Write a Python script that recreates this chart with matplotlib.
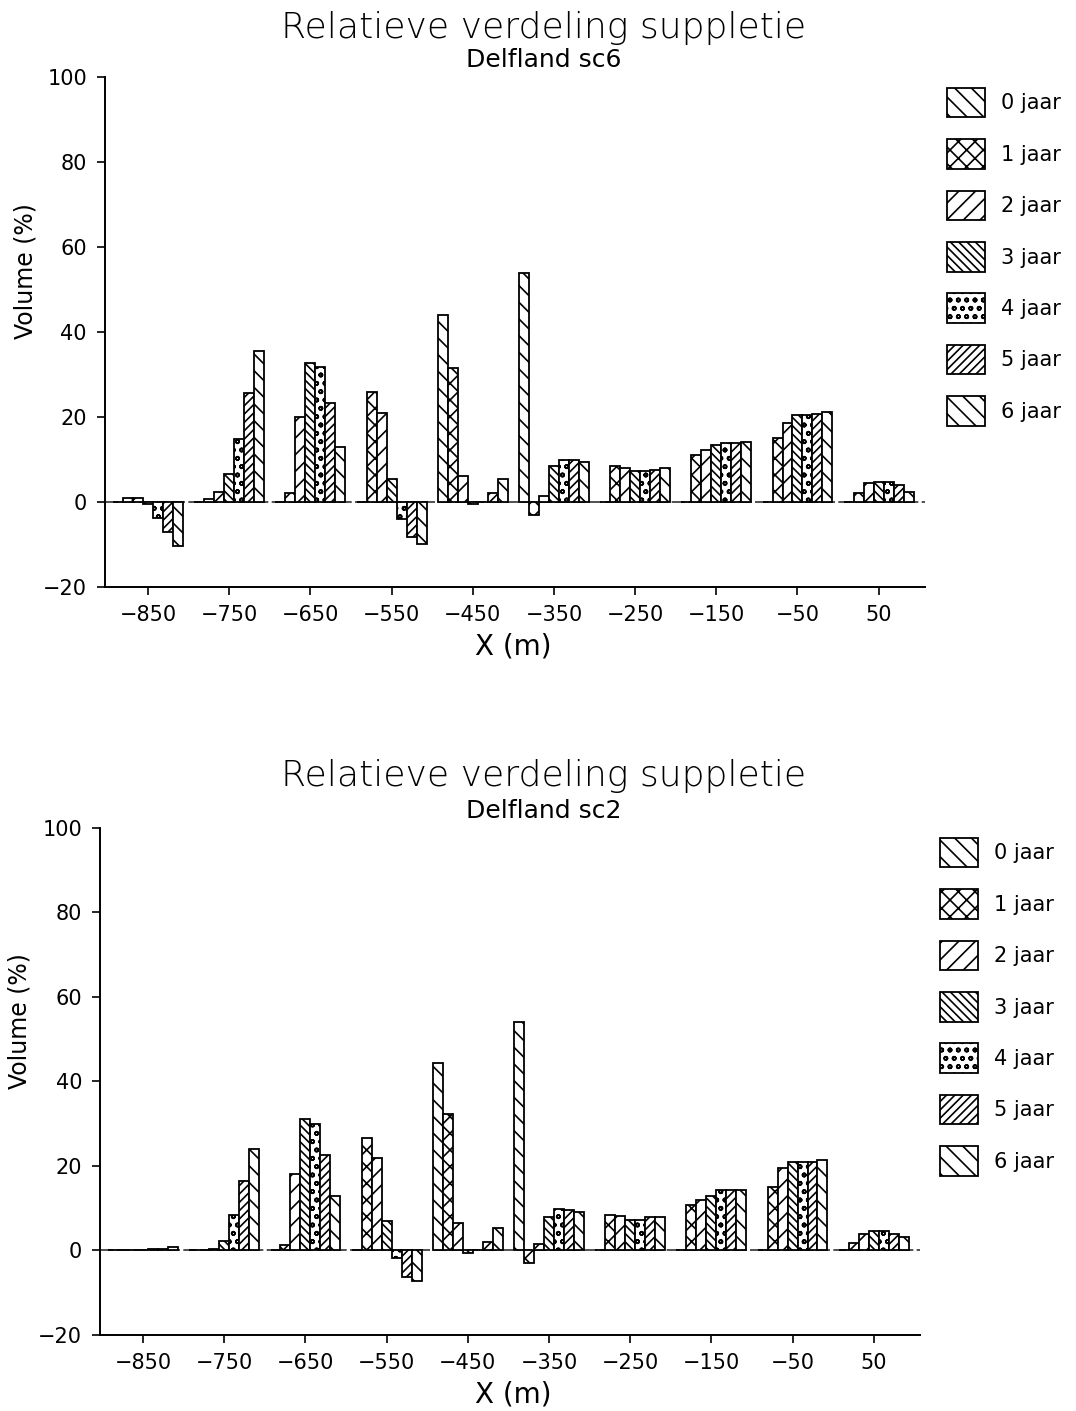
import numpy as np
import matplotlib
matplotlib.use("Agg")
import matplotlib.pyplot as plt

# posities van de raaien (m) en jaren na suppletie
x_pos = [-850, -750, -650, -550, -450, -350, -250, -150, -50, 50]
jaren = ["0 jaar", "1 jaar", "2 jaar", "3 jaar", "4 jaar", "5 jaar", "6 jaar"]

# Delfland sc6, volume (%) per jaar (rij) per raai (kolom)
sc6_vol = [
    [0, 0, 0, 0, 44, 54, 0, 0, 0, 0],
    [1, 0.7, 2, 26, 31.6, -3, 8.5, 11, 15, 2],
    [1, 2.3, 20, 20.9, 6.1, 1.5, 8, 12.2, 18.5, 4.5],
    [-0.5, 6.5, 32.8, 5.4, -0.5, 8.5, 7.2, 13.3, 20.5, 4.6],
    [-3.8, 14.8, 31.8, -4, 0, 9.8, 7.3, 13.8, 20.5, 4.8],
    [-7, 25.6, 23.3, -8.3, 2, 9.8, 7.6, 13.8, 20.7, 4],
    [-10.4, 35.5, 13, -9.9, 5.4, 9.3, 8, 14.2, 21.2, 2.3],
]

# Delfland sc2
sc2_vol = [
    [0, 0, 0, 0, 44.3, 54, 0, 0, 0, 0],
    [0, 0, 1.3, 26.5, 32.3, -3, 8.5, 10.8, 15, 1.8],
    [0.2, 0.3, 18.2, 21.8, 6.6, 1.5, 8.2, 12, 19.5, 3.8],
    [0.2, 2.2, 31, 7, -0.5, 8, 7.3, 13, 21, 4.6],
    [0.3, 8.3, 30, -1.8, 0, 9.8, 7.3, 14.3, 21, 4.6],
    [0.3, 16.4, 22.5, -6.3, 2, 9.5, 7.8, 14.2, 21, 4],
    [0.8, 24, 13, -7.3, 5.2, 9, 8, 14.2, 21.3, 3.2],
]

hatches = ["\\\\", "xx", "//", "\\\\\\\\", "oo", "////", "\\\\"]

plt.rcParams["font.family"] = "DejaVu Sans"
plt.rcParams["hatch.linewidth"] = 1.2
plt.rcParams["hatch.color"] = "black"

fig = plt.figure(figsize=(10.76, 14.11), dpi=100)


def teken(rect, data, titel, sub, ttl_y, sub_y, leg_xy, xlab_y, ylab_x):
    ax = fig.add_axes(rect)
    bw = 12.3
    x = np.array(x_pos, dtype=float)
    handles = []
    for i, vals in enumerate(data):
        b = ax.bar(x + (i - 3) * bw, vals, width=bw, color="white",
                   edgecolor="black", linewidth=1.3, hatch=hatches[i],
                   label=jaren[i], zorder=3)
        handles.append(b)
    ax.axhline(0, color="#333333", lw=1.2, ls=(0, (8, 2)), zorder=2)
    ax.set_xlim(-903, 107)
    ax.set_ylim(-20, 100)
    ax.set_xticks(x_pos)
    ax.set_xticklabels([str(v).replace("-", "\u2212") for v in x_pos])
    ax.set_yticks([-20, 0, 20, 40, 60, 80, 100])
    ax.set_yticklabels(["\u221220", "0", "20", "40", "60", "80", "100"])
    ax.tick_params(direction="out", length=6, width=1.2, labelsize=15, pad=7)
    for s in ["top", "right"]:
        ax.spines[s].set_visible(False)
    for s in ["left", "bottom"]:
        ax.spines[s].set_linewidth(1.4)
    fig.text(0.505, ttl_y, titel, ha="center", va="center", fontsize=26,
             fontweight="light")
    fig.text(0.505, sub_y, sub, ha="center", va="center", fontsize=18)
    fig.text(0.477, xlab_y, "X (m)", ha="center", va="center", fontsize=20)
    fig.text(ylab_x, rect[1] + rect[3] * 0.62, "Volume (%)", ha="center",
             va="center", rotation=90, fontsize=17)
    fig.legend(handles=handles, loc="upper left", bbox_to_anchor=leg_xy,
               frameon=False, fontsize=15, handlelength=1.8, handleheight=1.8,
               labelspacing=1.05, handletextpad=0.8, borderpad=0,
               borderaxespad=0)
    return ax


teken([0.0976, 0.584, 0.762, 0.3614], sc6_vol,
      "Relatieve verdeling suppletie", "Delfland sc6",
      1 - 28 / 1411, 1 - 60 / 1411, (947 / 1076, 1 - 88 / 1411),
      1 - 647 / 1411, 25 / 1076)
teken([0.093, 0.0539, 0.762, 0.3593], sc2_vol,
      "Relatieve verdeling suppletie", "Delfland sc2",
      1 - 776 / 1411, 1 - 811 / 1411, (940 / 1076, 1 - 838 / 1411),
      1 - 1395 / 1411, 20 / 1076)

plt.savefig("out.png", dpi=100)
plt.close()
